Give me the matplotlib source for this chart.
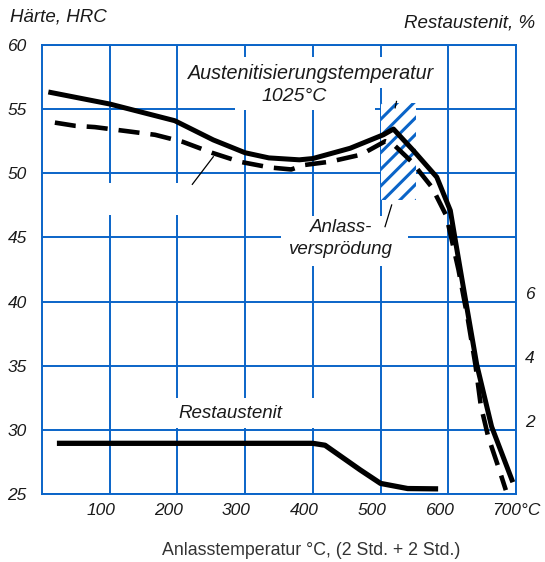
import matplotlib.pyplot as plt
import matplotlib.transforms as mtransforms
from matplotlib.patches import Rectangle

plt.rcParams['font.family'] = ['Liberation Sans', 'DejaVu Sans']
plt.rcParams['hatch.linewidth'] = 2.2

# Haerte (HRC) ueber Anlasstemperatur, durchgezogene Kurve
temp_a = [13, 100, 196, 253, 300, 335, 380, 400, 455, 504, 519, 548, 583, 603, 610, 620, 642, 664, 694]
hrc_a = [56.3, 55.4, 54.1, 52.6, 51.6, 51.2, 51.05, 51.15, 51.95, 53.0, 53.45, 51.8, 49.7, 47.1, 44.9,
         41.8, 35.1, 30.25, 26.1]

# gestrichelte Kurve
temp_b = [19, 49, 78, 123, 167, 208, 251, 292, 337, 368, 388, 425, 471, 507, 517, 545, 576, 597, 615,
          629, 640, 648, 659, 674, 685]
hrc_b = [53.95, 53.7, 53.6, 53.3, 53.0, 52.45, 51.6, 50.9, 50.45, 50.3, 50.65, 50.9, 51.45, 52.5, 52.35,
         50.95, 48.9, 46.7, 42.5, 38.6, 35.1, 31.9, 29.45, 27.1, 25.3]

# Restaustenit in %
temp_ra = [22, 400, 418, 470, 500, 540, 585]
pct_ra = [1.58, 1.58, 1.52, 0.75, 0.33, 0.17, 0.16]

x_ticks = [100, 200, 300, 400, 500, 600, 700]
x_labels = ['100', '200', '300', '400', '500', '600', '700°C']
y_ticks = [25, 30, 35, 40, 45, 50, 55, 60]
ra_ticks = [2, 4, 6]

blue = '#0a64c8'
txt = '#1a1a1a'

fig = plt.figure(figsize=(5.45, 5.62), dpi=100)
ax = fig.add_axes([42/545, 68/562, 474/545, 449/562])

ax.plot(temp_a, hrc_a, color='k', lw=3.6, solid_joinstyle='round', zorder=4)
line_b, = ax.plot(temp_b, hrc_b, color='k', lw=3.3, zorder=4, dash_capstyle='butt')
line_b.set_dashes([4.6, 2.4])

ax.set_xlim(0, 700)
ax.set_ylim(25, 60)
ax.set_xticks(x_ticks)
ax.set_xticklabels(x_labels, fontstyle='italic', fontsize=12.5, color=txt)
ax.set_yticks(y_ticks)
ax.set_yticklabels([str(v) for v in y_ticks], fontstyle='italic', fontsize=12.5, color=txt)
ax.tick_params(axis='both', length=0)
ax.tick_params(axis='x', pad=6.5)
ax.tick_params(axis='y', pad=11)
ax.grid(True, color=blue, lw=1.4)
ax.set_axisbelow(True)
for s in ax.spines.values():
    s.set_color(blue)
    s.set_linewidth(1.4)

# x labels sit a bit left of their grid lines
for i, lbl in enumerate(ax.get_xticklabels()):
    if i == len(x_ticks) - 1:
        lbl.set_horizontalalignment('left')
        dx = -24 / 100
    else:
        dx = -9 / 100
    lbl.set_transform(lbl.get_transform() + mtransforms.ScaledTranslation(dx, 0, fig.dpi_scale_trans))

# white boxes that break the grid behind the labels
boxes = [(211, 56.65, 372, 2.4), (285, 54.95, 207, 1.7), (353, 42.77, 188, 3.9),
         (198, 30.14, 263, 2.34), (78, 46.75, 211, 2.5)]
for x0, y0, w, h in boxes:
    ax.add_patch(Rectangle((x0, y0), w, h, facecolor='white', edgecolor='none', zorder=1))

# Anlassversproedung (schraffiert)
ax.add_patch(Rectangle((501, 47.9), 52, 7.58, facecolor='white', edgecolor=blue, lw=0,
                       hatch='//', zorder=2))

# Hinweislinien
ax.plot([253, 222], [51.29, 49.14], color='k', lw=0.9, zorder=4)
ax.plot([516.4, 506.6], [47.53, 45.84], color='k', lw=0.9, zorder=4)
ax.plot([521.5, 523.5], [55.1, 55.6], color='k', lw=0.9, zorder=4)

ax.text(397.5, 57.35, 'Austenitisierungstemperatur', ha='center', va='baseline',
        fontstyle='italic', fontsize=14.2, color=txt, zorder=5)
ax.text(372, 55.63, '1025°C', ha='center', va='baseline',
        fontstyle='italic', fontsize=14, color=txt, zorder=5)
ax.text(441, 45.42, 'Anlass-', ha='center', va='baseline',
        fontstyle='italic', fontsize=13.5, color=txt, zorder=5)
ax.text(441, 43.71, 'versprödung', ha='center', va='baseline',
        fontstyle='italic', fontsize=13.5, color=txt, zorder=5)
ax.text(201, 30.92, 'Restaustenit', ha='left', va='baseline',
        fontstyle='italic', fontsize=13.5, color=txt, zorder=5)

# Restaustenit auf rechter Achse
ax2 = ax.twinx()
ax2.plot(temp_ra, pct_ra, color='k', lw=3.8, solid_capstyle='butt', solid_joinstyle='round')
ax2.set_ylim(0, 14)
ax2.set_yticks(ra_ticks)
ax2.set_yticklabels([str(v) for v in ra_ticks], fontstyle='italic', fontsize=12.5, color=txt)
ax2.tick_params(axis='y', length=0, pad=6.5)
for s in ax2.spines.values():
    s.set_visible(False)
for lbl in ax2.get_yticklabels():
    lbl.set_transform(lbl.get_transform() + mtransforms.ScaledTranslation(0, 9 / 100, fig.dpi_scale_trans))

fig.text(10/545, 1 - 17.5/562, 'Härte, HRC', ha='left', va='center',
         fontstyle='italic', fontsize=13.5, color=txt)
fig.text(535/545, 1 - 22.5/562, 'Restaustenit, %', ha='right', va='center',
         fontstyle='italic', fontsize=13.5, color=txt)
fig.text(311/545, 1 - 550.5/562, 'Anlasstemperatur °C, (2 Std. + 2 Std.)', ha='center', va='center',
         fontsize=12.8, color='#333333')

plt.savefig('out.png', dpi=100)
